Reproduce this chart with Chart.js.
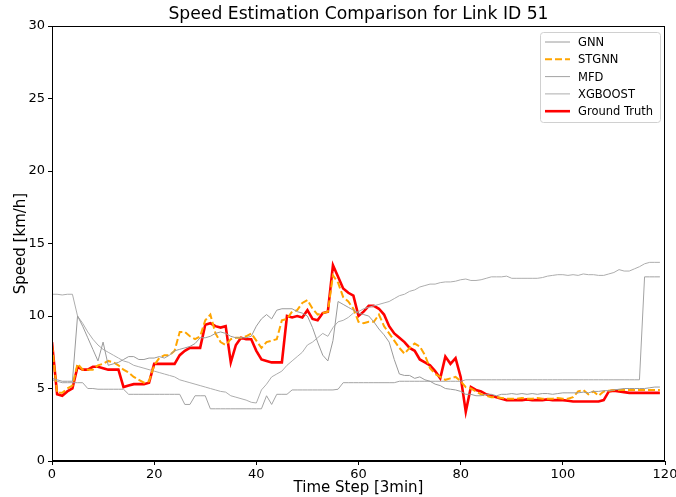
<!DOCTYPE html>
<html>
<head>
<meta charset="utf-8">
<script src="https://cdn.jsdelivr.net/npm/chart.js@4"></script>
<style>
  html, body { margin: 0; padding: 0; background: #fff; }
  #wrap { width: 676px; height: 497px; }
</style>
</head>
<body>
<div id="wrap"><canvas id="speedChart" width="676" height="497"></canvas></div>
<script>
const steps = Array.from({ length: 120 }, (_, i) => i);

const groundTruth = [
  8.2, 4.6, 4.5, 4.8, 5.0, 6.5, 6.3, 6.3, 6.5, 6.5,
  6.4, 6.3, 6.3, 6.3, 5.1, 5.2, 5.3, 5.3, 5.3, 5.4,
  6.7, 6.7, 6.7, 6.7, 6.7, 7.3, 7.6, 7.8, 7.8, 7.8,
  9.4, 9.5, 9.3, 9.2, 9.3, 6.8, 8.0, 8.5, 8.4, 8.4,
  7.6, 7.0, 6.9, 6.8, 6.8, 6.8, 10.0, 9.9, 10.0, 9.9,
  10.4, 9.8, 9.7, 10.2, 10.3, 13.5, 12.7, 11.9, 11.6, 11.4,
  10.0, 10.3, 10.7, 10.7, 10.5, 10.1, 9.3, 8.8, 8.5, 8.2,
  7.8, 7.6, 7.0, 6.8, 6.6, 6.2, 5.7, 7.2, 6.7, 7.1,
  5.8, 3.4, 5.1, 4.9, 4.8, 4.6, 4.5, 4.4, 4.3, 4.2,
  4.2, 4.2, 4.2, 4.25, 4.2, 4.2, 4.2, 4.25, 4.2, 4.2,
  4.2, 4.15, 4.1, 4.1, 4.1, 4.1, 4.1, 4.1, 4.2, 4.8,
  4.85, 4.8, 4.75, 4.7, 4.7, 4.7, 4.7, 4.7, 4.7, 4.7
];

const stgnn = [
  8.0, 4.7, 4.7, 5.0, 5.2, 6.7, 6.3, 6.3, 6.3, 6.6,
  6.7, 6.9, 6.8, 6.6, 6.3, 6.1, 5.8, 5.6, 5.4, 5.5,
  6.6, 7.1, 7.3, 7.3, 7.6, 8.9, 8.9, 8.6, 8.4, 8.6,
  9.7, 10.1, 8.8, 8.2, 8.0, 8.4, 8.5, 8.5, 8.6, 8.8,
  8.3, 7.8, 8.2, 8.3, 8.4, 9.7, 9.8, 10.3, 10.4, 10.9,
  11.1, 10.5, 10.1, 10.2, 10.3, 12.8, 12.3, 11.3, 11.0, 10.5,
  9.6, 9.5, 9.6, 9.6, 10.1, 9.3, 8.8, 8.3, 7.8, 7.4,
  7.8, 8.1, 7.9, 7.3, 6.4, 6.0, 5.8, 5.6, 5.7, 5.8,
  5.5, 5.1, 5.0, 4.8, 4.6, 4.5, 4.4, 4.4, 4.35, 4.3,
  4.3, 4.3, 4.35, 4.3, 4.3, 4.35, 4.3, 4.3, 4.3, 4.35,
  4.3, 4.3, 4.4, 4.8, 4.9, 4.6, 4.8, 4.5, 4.8, 4.85,
  4.9, 4.9, 4.9, 4.9, 4.9, 4.9, 4.9, 4.9, 4.9, 4.9
];

const gnn = [
  5.7, 5.6, 5.5, 5.5, 5.5, 10.0, 9.3, 8.5, 7.7, 6.9,
  8.2, 6.6, 6.7, 6.8, 7.0, 7.2, 7.2, 7.0, 7.0, 7.1,
  7.1, 7.2, 7.1, 7.3, 7.6, 7.7, 7.8, 7.9, 8.1, 8.5,
  8.5, 8.6, 8.8, 8.9, 8.8, 8.6, 8.5, 8.5, 8.5, 8.6,
  9.3, 9.8, 10.1, 9.8, 10.4, 10.5, 10.5, 10.5, 10.3, 10.2,
  10.0, 9.2, 8.2, 7.3, 6.9, 8.3, 11.0, 10.8, 10.6, 10.4,
  10.2, 10.1, 10.0, 9.6, 9.1, 8.7, 8.2, 7.0, 6.0, 5.9,
  5.9, 5.7, 5.8, 5.6, 5.5, 5.3, 5.2, 5.0, 4.95, 4.9,
  4.8, 4.6, 4.6, 4.5, 4.5, 4.6, 4.6, 4.5, 4.6, 4.6,
  4.65, 4.6, 4.65, 4.6, 4.65, 4.6, 4.65, 4.65, 4.6, 4.65,
  4.7, 4.7, 4.7, 4.7, 4.75, 4.7, 4.8, 4.8, 4.85, 4.85,
  4.9, 4.95, 5.0, 5.0, 5.0, 5.0, 5.0, 5.05, 5.1, 5.1
];

const mfd = [
  5.6, 5.5, 5.4, 5.4, 5.4, 5.4, 5.4, 5.0, 5.0, 4.95,
  4.95, 4.95, 4.95, 4.95, 4.95, 4.6, 4.6, 4.6, 4.6, 4.6,
  4.6, 4.6, 4.6, 4.6, 4.6, 4.6, 3.9, 3.9, 4.5, 4.5,
  4.5, 3.6, 3.6, 3.6, 3.6, 3.6, 3.6, 3.6, 3.6, 3.6,
  3.6, 3.6, 4.5, 3.9, 4.6, 4.6, 4.6, 4.9, 4.9, 4.9,
  4.9, 4.9, 4.9, 4.9, 4.9, 4.9, 4.95, 5.4, 5.4, 5.4,
  5.4, 5.4, 5.4, 5.4, 5.4, 5.4, 5.4, 5.4, 5.5, 5.5,
  5.5, 5.5, 5.5, 5.5, 5.5, 5.5, 5.5, 5.5, 5.5, 5.5,
  5.5, 5.6, 5.6, 5.6, 5.6, 5.6, 5.6, 5.6, 5.6, 5.6,
  5.6, 5.6, 5.6, 5.6, 5.6, 5.6, 5.6, 5.6, 5.6, 5.6,
  5.6, 5.6, 5.6, 5.6, 5.6, 5.6, 5.6, 5.6, 5.6, 5.6,
  5.6, 5.6, 5.6, 5.6, 5.6, 5.6, 12.7, 12.7, 12.7, 12.7
];

const xgboost = [
  11.5, 11.5, 11.45, 11.5, 11.5, 10.0, 9.5, 8.9, 8.4, 8.0,
  7.7, 7.5, 7.3, 7.1, 6.9, 6.8, 6.6, 6.5, 6.4, 6.3,
  6.2, 6.1, 6.0, 5.9, 5.8, 5.6, 5.5, 5.4, 5.3, 5.2,
  5.1, 5.0, 4.9, 4.8, 4.75, 4.5, 4.4, 4.3, 4.2, 4.05,
  4.0, 4.9, 5.3, 5.8, 6.0, 6.2, 6.6, 6.9, 7.2, 7.5,
  8.0, 8.2, 8.5, 8.8, 8.6, 9.2, 9.6, 9.7, 9.9, 10.2,
  10.3, 10.5, 10.6, 10.7, 10.8, 10.9, 11.0, 11.2, 11.4, 11.5,
  11.7, 11.8, 12.0, 12.1, 12.2, 12.2, 12.3, 12.35, 12.35, 12.4,
  12.5, 12.55, 12.45, 12.45, 12.5, 12.6, 12.7, 12.7, 12.7, 12.75,
  12.6, 12.6, 12.6, 12.6, 12.6, 12.6, 12.65, 12.75, 12.8, 12.85,
  12.85, 12.8, 12.85, 12.8, 12.9, 12.85, 12.85, 12.8, 12.8, 12.9,
  13.0, 13.2, 13.1, 13.1, 13.25, 13.4, 13.6, 13.7, 13.7, 13.7
];

const xTicks = [0, 20, 40, 60, 80, 100, 120];
const yTicks = [0, 5, 10, 15, 20, 25, 30];

const FONT = "'DejaVu Sans', sans-serif";

function pts(values) {
  return values.map((v, i) => ({ x: steps[i], y: v }));
}

// frame (top/right spines), title and legend drawn like matplotlib
const mplExtras = {
  id: "mplExtras",
  afterDraw(chart) {
    const ctx = chart.ctx;
    const a = chart.chartArea;
    ctx.save();
    ctx.strokeStyle = "#000";
    ctx.lineWidth = 1;
    ctx.strokeRect(a.left + 0.5, a.top + 0.5, a.right - a.left - 1, a.bottom - a.top - 1);

    ctx.fillStyle = "#000";
    ctx.font = "17.2px " + FONT;
    ctx.textAlign = "center";
    ctx.textBaseline = "middle";
    ctx.fillText("Speed Estimation Comparison for Link ID 51", (a.left + a.right) / 2, 15);

    // legend box
    const boxW = 120, rowH = 17.3;
    const boxH = 90;
    const bx = a.right - boxW - 5, by = a.top + 6;
    ctx.fillStyle = "rgba(255,255,255,0.8)";
    ctx.strokeStyle = "#d0d0d0";
    ctx.beginPath();
    ctx.roundRect(bx + 0.5, by + 0.5, boxW, boxH, 3);
    ctx.fill();
    ctx.stroke();
    ctx.font = "11.5px " + FONT;
    ctx.textAlign = "left";
    chart.data.datasets.forEach((ds, i) => {
      const y = by + 10 + i * rowH;
      ctx.strokeStyle = ds.borderColor;
      ctx.lineWidth = ds.borderWidth;
      ctx.setLineDash(ds.borderDash || []);
      ctx.beginPath();
      ctx.moveTo(bx + 5, y);
      ctx.lineTo(bx + 30, y);
      ctx.stroke();
      ctx.setLineDash([]);
      ctx.fillStyle = "#000";
      ctx.fillText(ds.label, bx + 38, y + 1);
    });
    ctx.restore();
  },
};

new Chart(document.getElementById("speedChart"), {
  type: "line",
  data: {
    datasets: [
      { label: "GNN", data: pts(gnn), borderColor: "#9a9a9a", borderWidth: 1 },
      { label: "STGNN", data: pts(stgnn), borderColor: "orange", borderWidth: 2, borderDash: [7, 3] },
      { label: "MFD", data: pts(mfd), borderColor: "#a3a3a3", borderWidth: 1 },
      { label: "XGBOOST", data: pts(xgboost), borderColor: "#adadad", borderWidth: 1 },
      { label: "Ground Truth", data: pts(groundTruth), borderColor: "red", borderWidth: 2.6 },
    ],
  },
  options: {
    responsive: false,
    animation: false,
    layout: { padding: { left: 0, top: 26, right: 0, bottom: 0 } },
    elements: { point: { radius: 0 }, line: { tension: 0 } },
    scales: {
      x: {
        type: "linear",
        min: 0,
        max: 120,
        afterBuildTicks: (s) => { s.ticks = xTicks.map((v) => ({ value: v })); },
        afterFit: (s) => { s.height = 36; s.paddingRight = 11; s.paddingLeft = 0; },
        grid: { drawOnChartArea: false, drawTicks: true, tickLength: 4, color: "#000" },
        border: { display: true, color: "#000" },
        ticks: { color: "#000", font: { family: FONT, size: 13 }, padding: 2, maxRotation: 0 },
        title: { display: true, text: "Time Step [3min]", color: "#000", font: { family: FONT, size: 15 }, padding: 0 },
      },
      y: {
        min: 0,
        max: 30,
        afterBuildTicks: (s) => { s.ticks = yTicks.map((v) => ({ value: v })); },
        afterFit: (s) => { s.width = 52; },
        grid: { drawOnChartArea: false, drawTicks: true, tickLength: 4, color: "#000" },
        border: { display: true, color: "#000" },
        ticks: { color: "#000", font: { family: FONT, size: 13 }, padding: 3 },
        title: { display: true, text: "Speed [km/h]", color: "#000", font: { family: FONT, size: 15 }, padding: { top: 12, bottom: 0 } },
      },
    },
    plugins: {
      legend: { display: false },
      tooltip: { enabled: false },
    },
  },
  plugins: [mplExtras],
});
</script>
</body>
</html>
